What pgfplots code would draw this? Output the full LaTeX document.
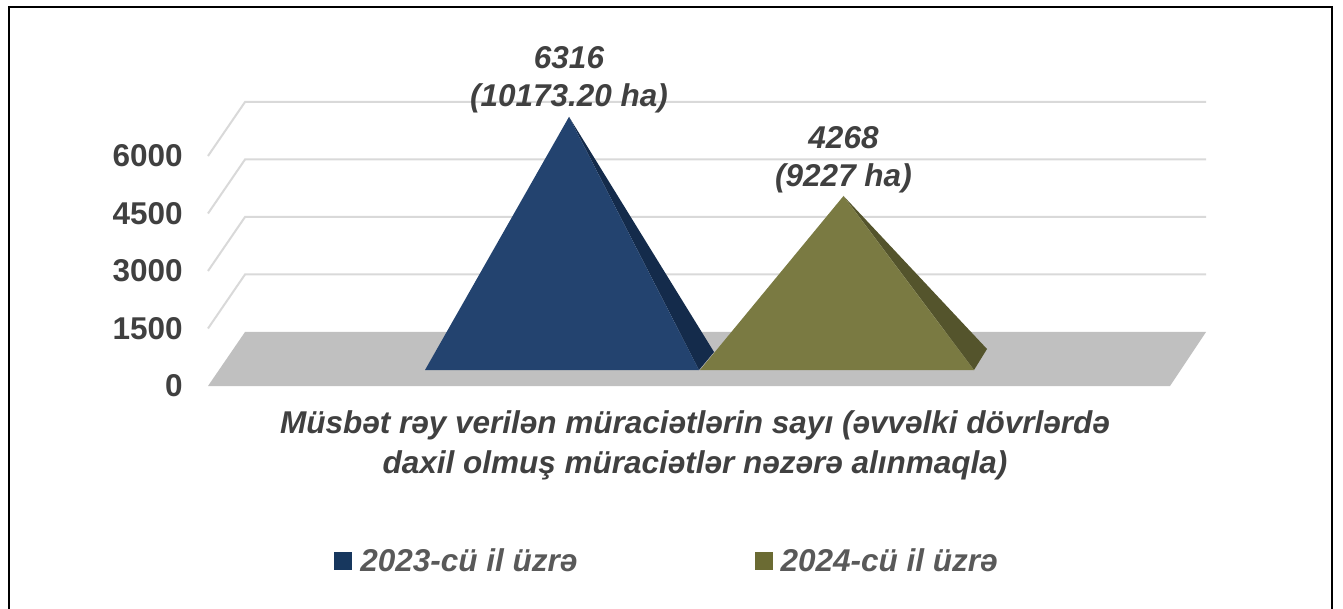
\documentclass[border=0pt]{standalone}
\usepackage{pgfplots}
\pgfplotsset{compat=1.18}
\usepackage{fontspec}
\setmainfont{Liberation Sans}
\definecolor{bluefront}{RGB}{35,67,111}
\definecolor{blueside}{RGB}{20,43,75}
\definecolor{olivefront}{RGB}{122,122,66}
\definecolor{oliveside}{RGB}{84,84,44}
\definecolor{legblue}{RGB}{23,55,94}
\definecolor{legolive}{RGB}{107,107,51}
\definecolor{floorgray}{RGB}{192,192,192}
\definecolor{gridgray}{RGB}{217,217,217}
\definecolor{txtgray}{RGB}{64,64,64}
\definecolor{legtxt}{RGB}{89,89,89}
\newcommand\chartfont{\fontsize{15.75pt}{19pt}\selectfont\bfseries\itshape}
\begin{document}
\begin{tikzpicture}
\useasboundingbox (0,0) rectangle (671.5pt,-304.5pt);
\draw[line width=1pt,black] (4.25pt,-3.75pt) rectangle (666pt,-340pt);
% values
\def\valA{6316}
\def\valB{4268}
\pgfmathsetmacro\apexA{655+1.008*\valA}
\pgfmathsetmacro\apexB{655+1.008*\valB}
\begin{axis}[
  at={(100pt,-193pt)}, anchor=south west,
  scale only axis, width=505pt, height=143.75pt,
  xmin=200, xmax=1210, ymin=0, ymax=7500,
  clip=false,
  axis line style={draw=none},
  major tick length=0pt,
  xtick=\empty,
  ytick={0,1500,3000,4500,6000},
  /pgf/number format/.cd, 1000 sep={}, assume math mode=true, /pgfplots/.cd,
  yticklabel style={font=\fontsize{15.75pt}{18pt}\selectfont\bfseries, text=txtgray, anchor=east, inner sep=0pt, xshift=-8.5pt},
  legend columns=2,
  legend style={at={(0.1327,-0.6104)}, anchor=west, draw=none, fill=none, inner sep=0pt,
    font=\chartfont, text=legtxt,
    /tikz/every even column/.append style={column sep=86.5pt}},
  legend cell align=left,
]
% floor
\addplot[fill=floorgray, draw=none, forget plot] coordinates {(208,0) (1170,0) (1206,1409) (245,1409)} -- cycle;
% side wall / back wall grid lines
\addplot[gridgray, line width=1pt, forget plot] coordinates {(208,1500) (245,2909) (1206,2909)};
\addplot[gridgray, line width=1pt, forget plot] coordinates {(208,3000) (245,4409) (1206,4409)};
\addplot[gridgray, line width=1pt, forget plot] coordinates {(208,4500) (245,5909) (1206,5909)};
\addplot[gridgray, line width=1pt, forget plot] coordinates {(208,6000) (245,7409) (1206,7409)};
% pyramid 2023
\addplot[fill=blueside, draw=none, forget plot] coordinates {(699,417) (714,887) (569,\apexA)} -- cycle;
\addplot[fill=bluefront, draw=none, forget plot] coordinates {(425,417) (699,417) (569,\apexA)} -- cycle;
% pyramid 2024
\addplot[fill=oliveside, draw=none, forget plot] coordinates {(974,417) (987,965) (843.5,\apexB)} -- cycle;
\addplot[fill=olivefront, draw=none, forget plot] coordinates {(700,417) (974,417) (843.5,\apexB)} -- cycle;
% data labels
\node[anchor=south, align=center, inner sep=0pt, yshift=1.5pt, font=\chartfont, text=txtgray] at (axis cs:569,\apexA) {\valA\\(10173.20 ha)};
\node[anchor=south, align=center, inner sep=0pt, yshift=1.5pt, font=\chartfont, text=txtgray] at (axis cs:843.5,\apexB) {\valB\\(9227 ha)};
% legend
\addlegendimage{legend image code/.code={\fill[legblue,draw=none] (0pt,-4.5pt) rectangle (9pt,4.5pt); \path[draw=none,fill=none] (0pt,0pt) -- (11pt,0pt);}}
\addlegendentry{2023-cü il üzrə}
\addlegendimage{legend image code/.code={\fill[legolive,draw=none] (0pt,-4.5pt) rectangle (9pt,4.5pt); \path[draw=none,fill=none] (0pt,0pt) -- (11pt,0pt);}}
\addlegendentry{2024-cü il üzrə}
\end{axis}
\node[anchor=base, inner sep=0pt, font=\chartfont, text=txtgray] at (347.5pt,-216.5pt) {Müsbət rəy verilən müraciətlərin sayı (əvvəlki dövrlərdə};
\node[anchor=base, inner sep=0pt, font=\chartfont, text=txtgray] at (347.5pt,-236.5pt) {daxil olmuş müraciətlər nəzərə alınmaqla)};
\end{tikzpicture}
\end{document}
